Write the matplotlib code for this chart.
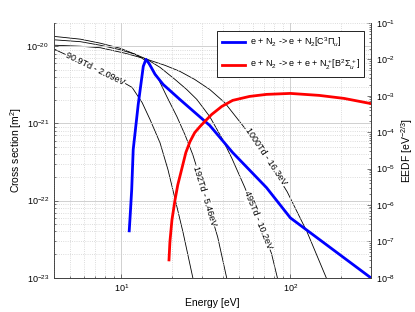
import numpy as np
import matplotlib
matplotlib.use("Agg")
import matplotlib.pyplot as plt
from matplotlib.ticker import LogLocator, NullFormatter

plt.rcParams['font.family'] = ['Liberation Sans', 'DejaVu Sans']
plt.rcParams['mathtext.fontset'] = 'custom'
plt.rcParams['mathtext.rm'] = 'Liberation Sans'
plt.rcParams['mathtext.it'] = 'Liberation Sans:italic'
plt.rcParams['mathtext.bf'] = 'Liberation Sans:bold'

# cross sections [m^2]
exc_E = [11.15, 11.3, 11.53, 11.77, 12.6, 13.5, 14.0, 14.6, 15.85, 17.7,
         22.2, 33.4, 45.6, 72.3, 100, 295]
exc_sigma = [4.05e-23, 6.5e-23, 1.38e-22, 4.58e-22, 1.76e-21, 5.5e-21, 6.77e-21,
             6.0e-21, 4.33e-21, 3.2e-21, 2.05e-21, 9.4e-22, 4.19e-22, 1.47e-22,
             5.97e-23, 1.02e-23]

ion_E = [19.16, 19.4, 19.95, 20.8, 21.6, 22.9, 24.1, 25.5, 27.2, 29.2, 31.2,
         34.3, 39.3, 45.6, 57.4, 72.3, 100, 148, 208, 295]
ion_sigma = [1.7e-23, 2.91e-23, 5.62e-23, 1.02e-22, 1.6e-22, 2.67e-22, 4.19e-22,
             5.81e-22, 7.6e-22, 9.1e-22, 1.06e-21, 1.31e-21, 1.66e-21, 1.99e-21,
             2.24e-21, 2.38e-21, 2.45e-21, 2.31e-21, 2.11e-21, 1.82e-21]

# EEDFs [eV^-3/2]
eedf_labels = ['90.9Td - 2.09eV', '192Td - 5.46eV', '495Td - 10.2eV', '1000Td - 16.3eV']
eedf_E = [
    [4.04, 4.26, 5.74, 7.52, 9.60, 11.6, 13.29, 14.8, 16.96, 18.9, 20.2, 23.2, 26.5],
    [4.04, 5.74, 7.52, 9.86, 12.09, 14.2, 16.3, 18.6, 21.35, 23.8, 26.5, 31.2,
     37.2, 42.0],
    [4.04, 5.74, 7.52, 9.86, 12.09, 14.2, 16.96, 20.8, 24.4, 28.0, 33.4, 39.3,
     45.0, 53.6, 64.0, 77.3, 83.8],
    [4.04, 5.74, 7.52, 10.56, 14.2, 18.15, 22.2, 27.2, 33.4, 40.9, 52.9, 70.3,
     95.9, 125.9, 163],
]
eedf_f = [
    [0.0191, 0.0168, 8.88e-3, 4.72e-3, 2.82e-3, 1.7e-3, 6.52e-4, 2.23e-4, 5.1e-5,
     9.3e-6, 2.59e-6, 1.76e-7, 1e-8],
    [0.0429, 0.0361, 0.028, 0.0203, 0.0139, 8.88e-3, 3.42e-3, 9.55e-4, 2.67e-4,
     8.6e-5, 2.4e-5, 2.11e-6, 1.3e-7, 1e-8],
    [0.0346, 0.0308, 0.0246, 0.0185, 0.0139, 0.0101, 6.06e-3, 2.82e-3, 1.49e-3,
     7.96e-4, 2.67e-4, 7.0e-5, 1.96e-5, 3.14e-6, 4.28e-7, 4.7e-8, 1e-8],
    [0.0246, 0.0231, 0.021, 0.0148, 0.0101, 6.89e-3, 4.72e-3, 2.82e-3, 1.49e-3,
     6.52e-4, 1.43e-4, 2.4e-5, 2.28e-6, 1.76e-7, 1e-8],
]

fig = plt.figure(figsize=(4.15, 3.12), dpi=100)
ax = fig.add_axes([0.130, 0.110, 0.764, 0.816])
ax2 = ax.twinx()
ax.set_zorder(ax2.get_zorder() + 1)
ax.patch.set_visible(False)

for E, f in zip(eedf_E, eedf_f):
    ax2.plot(E, f, color='black', lw=0.6)

ax.plot(exc_E, exc_sigma, color='#0000ff', lw=2.0,
        label=r'e + N$_2$ -> e + N$_2$[C$^3\Pi_u$]')
ax.plot(ion_E, ion_sigma, color='#ff0000', lw=2.0,
        label=r'e + N$_2$ -> e + e + N$_2^+$[B$^2\Sigma_u^+$]')

# inline labels on the EEDF curves
label_pos = [(7.03, 5.36e-3, -26), (31.2, 1.74e-6, -73),
             (64.0, 3.77e-7, -68), (71.3, 2.09e-5, -56)]
for txt, (x, y, rot) in zip(eedf_labels, label_pos):
    ax.text(x, y, txt, transform=ax2.transData, rotation=rot, fontsize=6.5,
            ha='center', va='center', rotation_mode='anchor',
            bbox=dict(facecolor='white', edgecolor='none', pad=0.5))

ax.set_xscale('log')
ax.set_yscale('log')
ax2.set_yscale('log')
ax.set_xlim(4, 300)
ax.set_ylim(1e-23, 2e-20)
ax2.set_ylim(1e-8, 1e-1)

ax.xaxis.set_minor_locator(LogLocator(base=10, subs=np.arange(2, 10), numticks=20))
ax.xaxis.set_minor_formatter(NullFormatter())
ax.yaxis.set_minor_locator(LogLocator(base=10, subs=np.arange(2, 10), numticks=20))
ax.yaxis.set_minor_formatter(NullFormatter())
ax2.yaxis.set_major_locator(LogLocator(base=10, numticks=20))
ax2.yaxis.set_minor_locator(LogLocator(base=10, subs=np.arange(2, 10), numticks=40))
ax2.yaxis.set_minor_formatter(NullFormatter())

ax.grid(True, which='major', color='#d0d0d0', lw=0.7)
ax.grid(True, which='minor', color='#d0d0d0', lw=0.6, ls=':')

for a in (ax, ax2):
    a.tick_params(which='both', direction='in', labelsize=6.5, color='#404040',
                  width=0.5)
    a.tick_params(which='major', length=3)
    a.tick_params(which='minor', length=1.5)
    for side, sp in a.spines.items():
        sp.set_color('#404040')
        sp.set_linewidth(0.6)
    a.spines['top'].set_visible(False)

ax.set_xlabel('Energy [eV]', fontsize=7.5, labelpad=3)
ax.set_ylabel('Cross section [m$^2$]', fontsize=7.5, labelpad=2)
ax2.set_ylabel('EEDF [eV$^{-2/3}$]', fontsize=7.5, labelpad=3)

leg = ax.legend(loc='upper right', bbox_to_anchor=(0.978, 0.969), fontsize=6.5,
                fancybox=False, framealpha=1, edgecolor='black', handlelength=2.6,
                borderpad=0.5, labelspacing=1.0, handletextpad=0.5,
                borderaxespad=0)
leg.get_frame().set_linewidth(0.6)

fig.savefig('out.png', dpi=100)
